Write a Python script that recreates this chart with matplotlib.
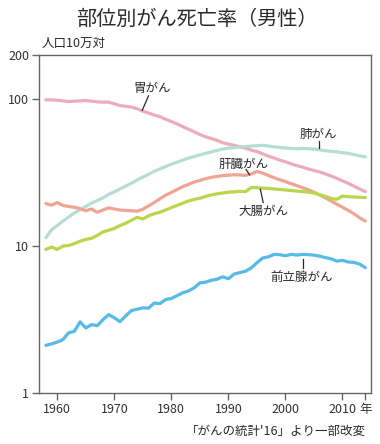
import matplotlib
matplotlib.use("Agg")
import matplotlib.pyplot as plt
from matplotlib.ticker import FixedLocator, NullLocator

plt.rcParams['font.family'] = ['Noto Sans CJK JP', 'DejaVu Sans']

years = list(range(1958, 2015))

stomach = [99, 99, 98.5, 97.5, 96.5, 97, 97.5, 98, 97, 96, 95.5, 95.5, 93, 90.5, 89.5, 88.5,
           86, 83, 80.5, 78, 76, 73, 70.5, 68, 65, 62.5, 60, 57.5, 55.5, 54, 52.5, 50.5,
           49.5, 48.5, 47.5, 46.5, 45, 44, 42.5, 41, 39.8, 38.5, 37.5, 36.3, 35.3, 34.5,
           33.5, 32.7, 32, 31, 30, 29, 27.8, 26.8, 25.6, 24.5, 23.5]
lung = [11.4, 12.9, 13.8, 14.8, 15.8, 16.8, 17.7, 18.6, 19.6, 20.4, 21.3, 22.5, 23.4, 24.5,
        25.6, 26.8, 28.2, 29.5, 30.8, 32.3, 33.5, 34.8, 36.1, 37.3, 38.5, 39.7, 40.7, 41.8,
        42.8, 43.8, 44.8, 45.8, 46.4, 46.8, 47.2, 47.6, 48.0, 48.3, 48.5, 48.0, 47.4, 47.0,
        46.6, 46.2, 46.0, 46.2, 46.0, 45.8, 45.2, 44.6, 44.2, 43.8, 43.3, 42.8, 42.0, 41.2, 40.5]
liver = [19.5, 19.0, 19.8, 18.9, 18.6, 18.4, 18.0, 17.4, 17.9, 17.0, 17.6, 18.2, 17.9, 17.6,
         17.5, 17.4, 17.3, 17.8, 18.8, 19.8, 21.0, 22.2, 23.2, 24.3, 25.4, 26.3, 27.3, 28.0,
         28.8, 29.4, 29.8, 30.2, 30.4, 30.6, 30.5, 30.3, 31.0, 32.2, 31.4, 30.3, 29.2, 28.3,
         27.5, 26.6, 25.8, 25.0, 24.2, 23.3, 22.3, 21.3, 20.3, 19.3, 18.4, 17.5, 16.6, 15.6, 14.8]
colon = [9.5, 9.85, 9.5, 10.0, 10.1, 10.4, 10.8, 11.1, 11.3, 11.8, 12.5, 12.8, 13.2, 13.8,
         14.3, 15.0, 15.7, 15.3, 16.1, 16.6, 17.0, 17.6, 18.3, 18.9, 19.6, 20.3, 20.8, 21.2,
         21.8, 22.3, 22.7, 23.0, 23.3, 23.4, 23.6, 23.5, 25.0, 25.0, 24.8, 24.7, 24.5, 24.3,
         24.1, 23.9, 23.7, 23.5, 23.3, 23.0, 22.4, 21.8, 21.1, 20.8, 21.9, 21.7, 21.6, 21.5, 21.4]
prostate = [2.11, 2.16, 2.22, 2.31, 2.57, 2.63, 3.05, 2.77, 2.92, 2.87, 3.15, 3.42, 3.25, 3.06,
            3.35, 3.64, 3.72, 3.80, 3.78, 4.10, 4.06, 4.33, 4.40, 4.60, 4.81, 4.95, 5.20, 5.62,
            5.68, 5.85, 5.95, 6.18, 6.0, 6.45, 6.6, 6.75, 7.1, 7.7, 8.3, 8.45, 8.78, 8.75,
            8.6, 8.78, 8.7, 8.78, 8.75, 8.68, 8.55, 8.35, 8.2, 7.9, 8.0, 7.8, 7.75, 7.55, 7.13]

series = [
    ("胃がん", stomach, "#ebacbd"),
    ("肺がん", lung, "#b6ddd3"),
    ("肝臓がん", liver, "#f0a494"),
    ("大腸がん", colon, "#bbd54e"),
    ("前立腺がん", prostate, "#58bae6"),
]

# label text position, leader start, leader end (data coords)
labels = {
    "胃がん": ((1976.6, 118.5), (1976.0, 105.5), (1974.9, 84.0)),
    "肺がん": ((2005.8, 57.8), (2005.8, 52.0), (2005.8, 46.6)),
    "肝臓がん": ((1992.6, 36.1), (1993.1, 33.3), (1993.7, 30.6)),
    "大腸がん": ((1996.1, 17.3), (1995.6, 24.4), (1996.1, 19.8)),
    "前立腺がん": ((2002.9, 6.08), (2003.0, 8.2), (2003.0, 7.13)),
}

xticks = [1960, 1970, 1980, 1990, 2000, 2010, 2014]
xticklabels = ["1960", "1970", "1980", "1990", "2000", "2010", "年"]
yticks = [1, 10, 100, 200]
yticklabels = ["1", "10", "100", "200"]

fig = plt.figure(figsize=(3.8, 4.44), dpi=100)
ax = fig.add_axes([39 / 380, 1 - 393 / 444, (371 - 39) / 380, (393 - 55) / 444])

for name, vals, col in series:
    ax.plot(years, vals, color=col, lw=2.3, solid_joinstyle='round', solid_capstyle='round')

for name, (tpos, p0, p1) in labels.items():
    ax.text(tpos[0], tpos[1], name, ha='center', va='center', fontsize=9, color='#2a2a2a')
    ax.plot([p0[0], p1[0]], [p0[1], p1[1]], color='#2a2a2a', lw=0.9)

ax.set_yscale('log')
ax.set_ylim(1, 200)
ax.set_xlim(1956.8, 2015.0)
ax.yaxis.set_major_locator(FixedLocator(yticks))
ax.yaxis.set_minor_locator(NullLocator())
ax.set_yticklabels(yticklabels)
ax.set_xticks(xticks)
ax.set_xticklabels(xticklabels)

for s in ax.spines.values():
    s.set_color('#666666')
    s.set_linewidth(1.0)
ax.tick_params(axis='both', length=5, width=1, color='#666666', labelsize=9,
               labelcolor='#333333', pad=2)

fig.text(197 / 380, 1 - 19 / 444, "部位別がん死亡率（男性）", ha='center', va='center',
         fontsize=14.5, color='#2a2a2a')
fig.text(42 / 380, 1 - 43 / 444, "人口10万対", ha='left', va='center', fontsize=9,
         color='#2a2a2a')
fig.text(366 / 380, 1 - 431 / 444, "「がんの統計'16」より一部改変", ha='right', va='center',
         fontsize=9, color='#2a2a2a')

fig.savefig("out.png", dpi=100)
